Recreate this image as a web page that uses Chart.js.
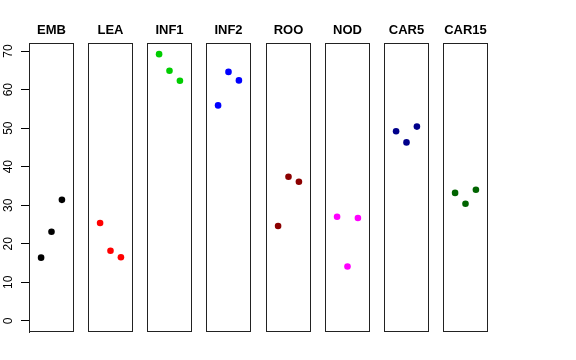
<!DOCTYPE html>
<html>
<head>
<meta charset="utf-8">
<script src="https://cdn.jsdelivr.net/npm/chart.js@4.4.1/dist/chart.umd.min.js"></script>
<style>
  body { margin:0; background:#fff; }
  #wrap { position:relative; width:576px; height:360px; }
  .pan { position:absolute; left:0; top:0; width:576px; height:360px; }
</style>
</head>
<body>
<div id="wrap"></div>
<script>
// --- datos ---
const panels = ['EMB', 'LEA', 'INF1', 'INF2', 'ROO', 'NOD', 'CAR5', 'CAR15'];
const colores = ['#000000', '#ff0000', '#00cd00', '#0000ff', '#8b0000', '#ff00ff', '#00008b', '#006400'];
const xPos = [1, 2, 3];
const EMB = [16.4, 23.1, 31.4];
const LEA = [25.4, 18.2, 16.5];
const INF1 = [69.2, 64.9, 62.3];
const INF2 = [55.9, 64.6, 62.4];
const ROO = [24.6, 37.4, 36.1];
const NOD = [27.0, 14.1, 26.7];
const CAR5 = [49.2, 46.3, 50.4];
const CAR15 = [33.2, 30.4, 34.0];
const valores = [EMB, LEA, INF1, INF2, ROO, NOD, CAR5, CAR15];
const yTicks = [0, 10, 20, 30, 40, 50, 60, 70];

// caja alrededor de cada panel
const cajaPlugin = {
  id: 'caja',
  beforeDatasetsDraw(chart) {
    const a = chart.chartArea;
    const ctx = chart.ctx;
    ctx.save();
    ctx.strokeStyle = '#222';
    ctx.lineWidth = 1;
    ctx.strokeRect(a.left + 0.5, a.top + 0.5, a.right - a.left - 1, a.bottom - a.top - 1);
    ctx.restore();
  }
};

const wrap = document.getElementById('wrap');
panels.forEach((nombre, i) => {
  const izq = Math.round(29 + i * 59.14);
  const div = document.createElement('div');
  div.className = 'pan';
  const cv = document.createElement('canvas');
  div.appendChild(cv);
  wrap.appendChild(div);
  const primero = i === 0;

  const ejeY = {
    type: 'linear', min: -2.9, max: 72.1,
    display: primero,
    afterBuildTicks: s => { s.ticks = yTicks.map(v => ({value: v})); },
    grid: {drawOnChartArea: false, drawTicks: true, tickLength: 8, color: '#000'},
    border: {display: true, color: '#222'},
    ticks: {
      minRotation: 90, maxRotation: 90, crossAlign: 'center', padding: 6,
      color: '#000', font: {family: 'Liberation Sans, Arial', size: 12}
    }
  };
  if (primero) ejeY.afterFit = s => { s.width = 29; };

  new Chart(cv.getContext('2d'), {
    type: 'scatter',
    data: {
      datasets: [{
        label: nombre,
        data: xPos.map((x, k) => ({x: x, y: valores[i][k]})),
        backgroundColor: colores[i],
        borderWidth: 0,
        pointRadius: 3.3,
        pointHoverRadius: 3.3
      }]
    },
    plugins: [cajaPlugin],
    options: {
      animation: false,
      responsive: true,
      maintainAspectRatio: false,
      events: [],
      layout: {
        padding: {left: primero ? 0 : izq, right: 576 - (izq + 45), top: 22.4, bottom: 28}
      },
      scales: {
        x: {type: 'linear', min: -0.16, max: 4.16, display: false},
        y: ejeY
      },
      plugins: {
        legend: {display: false},
        tooltip: {enabled: false},
        title: {
          display: true, text: nombre, fullSize: false,
          color: '#000', padding: {top: 0, bottom: 5},
          font: {family: 'Liberation Sans, Arial', size: 13, weight: 'bold', lineHeight: 1.2}
        }
      }
    }
  });
});
</script>
</body>
</html>
